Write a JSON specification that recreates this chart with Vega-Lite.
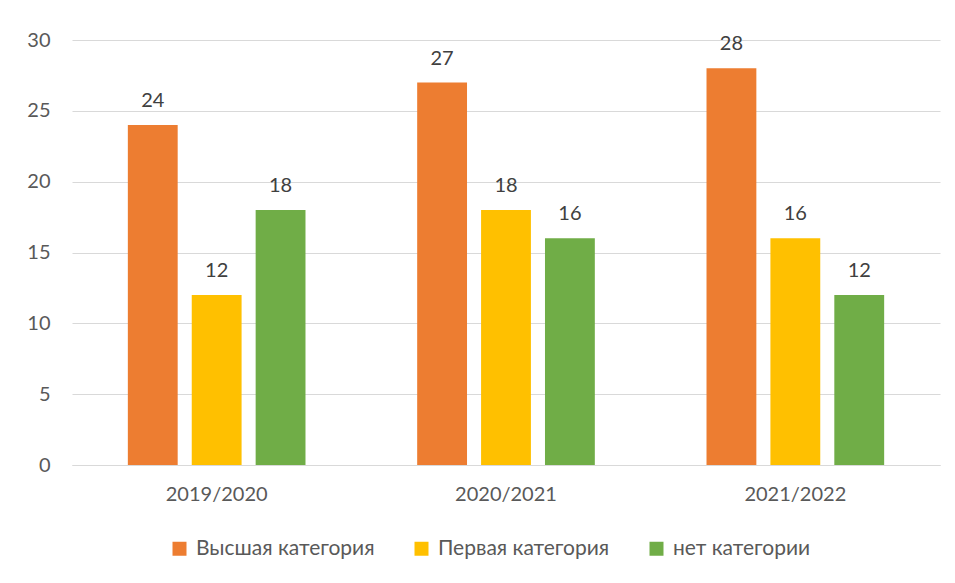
{
  "$schema": "https://vega.github.io/schema/vega-lite/v6.json",
  "width": 868,
  "height": 425,
  "autosize": {"type": "none"},
  "padding": {"left": 72, "top": 40, "right": 15, "bottom": 118},
  "background": "white",
  "config": {
    "font": "Lato",
    "view": {"stroke": null}
  },
  "data": {
    "values": [
      {"year": "2019/2020", "cat": "Высшая категория", "value": 24},
      {"year": "2019/2020", "cat": "Первая категория", "value": 12},
      {"year": "2019/2020", "cat": "нет категории", "value": 18},
      {"year": "2020/2021", "cat": "Высшая категория", "value": 27},
      {"year": "2020/2021", "cat": "Первая категория", "value": 18},
      {"year": "2020/2021", "cat": "нет категории", "value": 16},
      {"year": "2021/2022", "cat": "Высшая категория", "value": 28},
      {"year": "2021/2022", "cat": "Первая категория", "value": 16},
      {"year": "2021/2022", "cat": "нет категории", "value": 12}
    ]
  },
  "encoding": {
    "x": {
      "field": "year", "type": "nominal",
      "scale": {"paddingInner": 0.386, "paddingOuter": 0.193},
      "axis": {"title": null, "labelAngle": 0, "ticks": false, "domainColor": "#D9D9D9", "labelFontSize": 20, "labelColor": "#595959", "labelPadding": 19}
    },
    "xOffset": {"field": "cat", "type": "nominal", "scale": {"paddingInner": 0.22, "paddingOuter": 0}, "sort": ["Высшая категория", "Первая категория", "нет категории"]},
    "y": {
      "field": "value", "type": "quantitative",
      "scale": {"domain": [0, 30]},
      "axis": {"title": null, "values": [0, 5, 10, 15, 20, 25, 30], "domain": false, "ticks": false, "gridColor": "#D9D9D9", "labelFontSize": 20, "labelColor": "#595959", "labelPadding": 22}
    }
  },
  "layer": [
    {
      "mark": {"type": "bar"},
      "encoding": {
        "color": {
          "field": "cat", "type": "nominal",
          "sort": ["Высшая категория", "Первая категория", "нет категории"],
          "scale": {"domain": ["Высшая категория", "Первая категория", "нет категории"], "range": ["#ED7D31", "#FFC000", "#70AD47"]},
          "legend": {"title": null, "orient": "none", "legendX": 97, "legendY": 498, "direction": "horizontal", "symbolType": "square", "symbolSize": 196, "symbolStrokeWidth": 0, "symbolOpacity": 1, "labelFontSize": 21, "labelColor": "#595959", "columnPadding": 36, "labelOffset": 6, "labelLimit": 300}
        }
      }
    },
    {
      "mark": {"type": "text", "baseline": "bottom", "dy": -14, "fontSize": 20, "color": "#404040"},
      "encoding": {"text": {"field": "value", "type": "quantitative"}}
    }
  ]
}
